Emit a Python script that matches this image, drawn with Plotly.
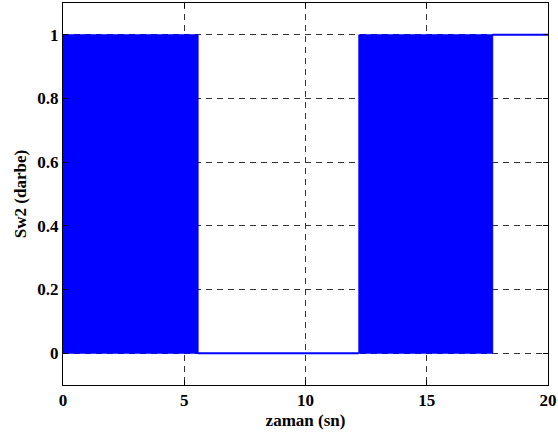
import plotly.graph_objects as go

# Switching signal Sw2: intervals of fast PWM switching, and steady levels
switch_start = [0.0, 12.2]
switch_end = [5.57, 17.72]
steady_start = [5.57, 17.72]
steady_end = [12.2, 20.0]
steady_level = [0, 1]
low_level = 0
high_level = 1

x_ticks = [0, 5, 10, 15, 20]
y_ticks = [0, 0.2, 0.4, 0.6, 0.8, 1]

blue = "#0000ff"
serif = "Liberation Serif"
fig = go.Figure()

# PWM bands: switching too fast to resolve, drawn as solid blocks between low and high
for s, e in zip(switch_start, switch_end):
    fig.add_trace(go.Scatter(
        x=[s, e, e, s, s],
        y=[low_level, low_level, high_level, high_level, low_level],
        mode="lines", fill="toself", fillcolor=blue,
        line=dict(color=blue, width=1), hoverinfo="skip", showlegend=False,
    ))

# Steady segments
for s, e, v in zip(steady_start, steady_end, steady_level):
    fig.add_trace(go.Scatter(
        x=[s, e], y=[v, v], mode="lines",
        line=dict(color=blue, width=2), showlegend=False,
    ))

axis_common = dict(
    showline=True, linecolor="black", linewidth=1, mirror="ticks",
    ticks="inside", ticklen=5, tickcolor="black", tickwidth=1,
    showgrid=True, gridcolor="#333333", gridwidth=1, griddash="6px,5px",
    zeroline=False, automargin=False,
    tickfont=dict(family=serif, size=17, color="black", weight="bold"),
)

fig.update_layout(
    width=558, height=439,
    margin=dict(l=63, r=10, t=3, b=54),
    paper_bgcolor="white", plot_bgcolor="white",
    font=dict(family=serif, size=17, color="black"),
    xaxis=dict(
        range=[0, 20], tickvals=x_ticks, ticktext=[str(t) for t in x_ticks],
        title=dict(text="zaman (sn)", standoff=4,
                   font=dict(family=serif, size=17, color="black", weight="bold")),
        **axis_common,
    ),
    yaxis=dict(
        range=[-0.1, 1.1], tickvals=y_ticks, ticktext=["0", "0.2", "0.4", "0.6", "0.8", "1"],
        title=dict(text="Sw2 (darbe)", standoff=6,
                   font=dict(family=serif, size=17, color="black", weight="bold")),
        **axis_common,
    ),
)

fig.write_html("out.html")
